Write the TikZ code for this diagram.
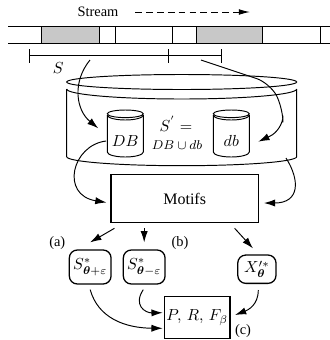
\documentclass[tikz,border=0pt]{standalone}
\usepackage{amsmath}
\usepackage[no-math]{fontspec}
\setmainfont{Liberation Serif}
\usetikzlibrary{arrows.meta,calc}
\definecolor{cellgray}{RGB}{200,200,200}
\newcommand\mysmallcyl[1]{%
  \draw (#1,113.8) ellipse [x radius=18, y radius=3.8];
  \draw (#1-18,115) arc[start angle=180,end angle=0,x radius=18,y radius=5];
  \draw (#1-18,115) -- (#1-18,152) arc[start angle=180,end angle=0,x radius=18,y radius=5] -- (#1+18,115);
}
\begin{document}
\begin{tikzpicture}[x=0.625pt,y=-0.625pt,
  line width=0.6pt,
  arr/.style={-{Latex[length=7pt,width=4.5pt]}},
  box/.style={draw, line width=0.8pt, inner sep=0pt},
  rbox/.style={draw, line width=0.8pt, rounded corners=5pt, inner sep=0pt},
  lbl/.style={font=\small}]
\useasboundingbox (0,0) rectangle (330,340);

% stream label and arrow
\node[lbl] (stream) at (98,12) {Stream};
\coordinate (streamend) at (250,12);
\draw[dash pattern=on 4.2pt off 2.6pt, -{Latex[length=7pt,width=3.6pt]}] ([shift={(11,0)}]stream.east) -- (streamend);

% tape
\fill[cellgray] (41.7,26.7) rectangle (99,43);
\fill[cellgray] (196.7,26.7) rectangle (262.3,43);
\draw (8.3,26.7) -- (330,26.7);
\draw (8.3,43) -- (330,43);
\foreach \x in {41.7,99,115,172.3,196.7,262.3,320} \draw (\x,26.7) -- (\x,43);

% bracket
\draw (29.3,55) -- (221,55);
\foreach \x in {29.3,168.3,221} \draw (\x,49) -- (\x,63);
\node (S) at (58.3,68.3) {$S$};

% big cylinder
\draw (181.7,82) ellipse [x radius=115, y radius=7.5];
\draw (66.7,89) arc[start angle=180,end angle=0,x radius=115,y radius=10];
\draw (66.7,89) -- (66.7,156.7) arc[start angle=180,end angle=0,x radius=115,y radius=9] -- (296.7,89);
\coordinate (cylbr) at (286,158);

% small cylinders
\mysmallcyl{125.3}
\mysmallcyl{231.3}
\node (DB) at (125.3,141) {$DB$};
\node (db) at (231.3,141) {$db$};
\node (Sp) at (176,124) {$S^{'}=$};
\node (union) at (177,145.5) {\footnotesize $DB\cup db$};

% arrows into cylinders
\coordinate (a1s) at (90,60);
\coordinate (a1e) at (98.3,128.3);
\draw[arr] (a1s) .. controls (72,82) and (76,110) .. (a1e);
\coordinate (a2s) at (201,60);
\coordinate (a2e) at (258.3,141.7);
\draw[arr, rounded corners=9pt] (a2s) -- (270,83) -- (283,108) -- (283,130) -- (a2e);

% Motifs
\node[box, minimum width=92pt, minimum height=30.2pt] (motifs) at (184.7,198.5) {Motifs};
\draw[arr] (DB.west) .. controls (72,145) and (60,195) .. ([shift={(-4,4)}]motifs.west);
\draw[arr] (cylbr) .. controls (300,180) and (300,203) .. ([shift={(5,4.5)}]motifs.east);

% result boxes
\node[rbox, minimum width=26.1pt, minimum height=21.25pt] (splus) at (90.2,267) {$S^{*}_{\boldsymbol{\theta}+\varepsilon}$};
\node[rbox, minimum width=26.1pt, minimum height=21.25pt] (sminus) at (144.2,267) {$S^{*}_{\boldsymbol{\theta}-\varepsilon}$};
\node[rbox, minimum width=23.9pt, minimum height=17.7pt] (X) at (256.9,269.2) {$X^{\prime *}_{\boldsymbol{\theta}}$};
\node[box, minimum width=41.1pt, minimum height=26pt] (prf) at (197.2,317.5) {$P,\,R,\,F_\beta$};

\node[lbl] (la) at (57.3,243.3) {(a)};
\node[lbl] (lb) at (180,243.3) {(b)};
\node[lbl] (lc) at (243,331) {(c)};

\draw[arr] ([shift={(4,5)}]motifs.south west) -- ([shift={(0,-7)}]splus.north);
\draw[arr] ([shift={(-40.5,5)}]motifs.south) -- ([shift={(0,-7)}]sminus.north);
\draw[arr] ([shift={(-24.3,5)}]motifs.south east) -- ([shift={(-3.9,-6)}]X.north);

\draw[arr] ([shift={(0,5)}]splus.south) .. controls (98,318) and (125,328) .. ([shift={(-1,10.8)}]prf.west);
\draw[arr] ([shift={(-0.9,5)}]sminus.south) .. controls (133,305) and (145,313) .. ([shift={(-1,-4.8)}]prf.west);
\draw[arr] ([shift={(1.4,6)}]X.south) .. controls (258.3,305) and (248,310) .. ([shift={(4.3,-2.5)}]prf.east);
\end{tikzpicture}
\end{document}
